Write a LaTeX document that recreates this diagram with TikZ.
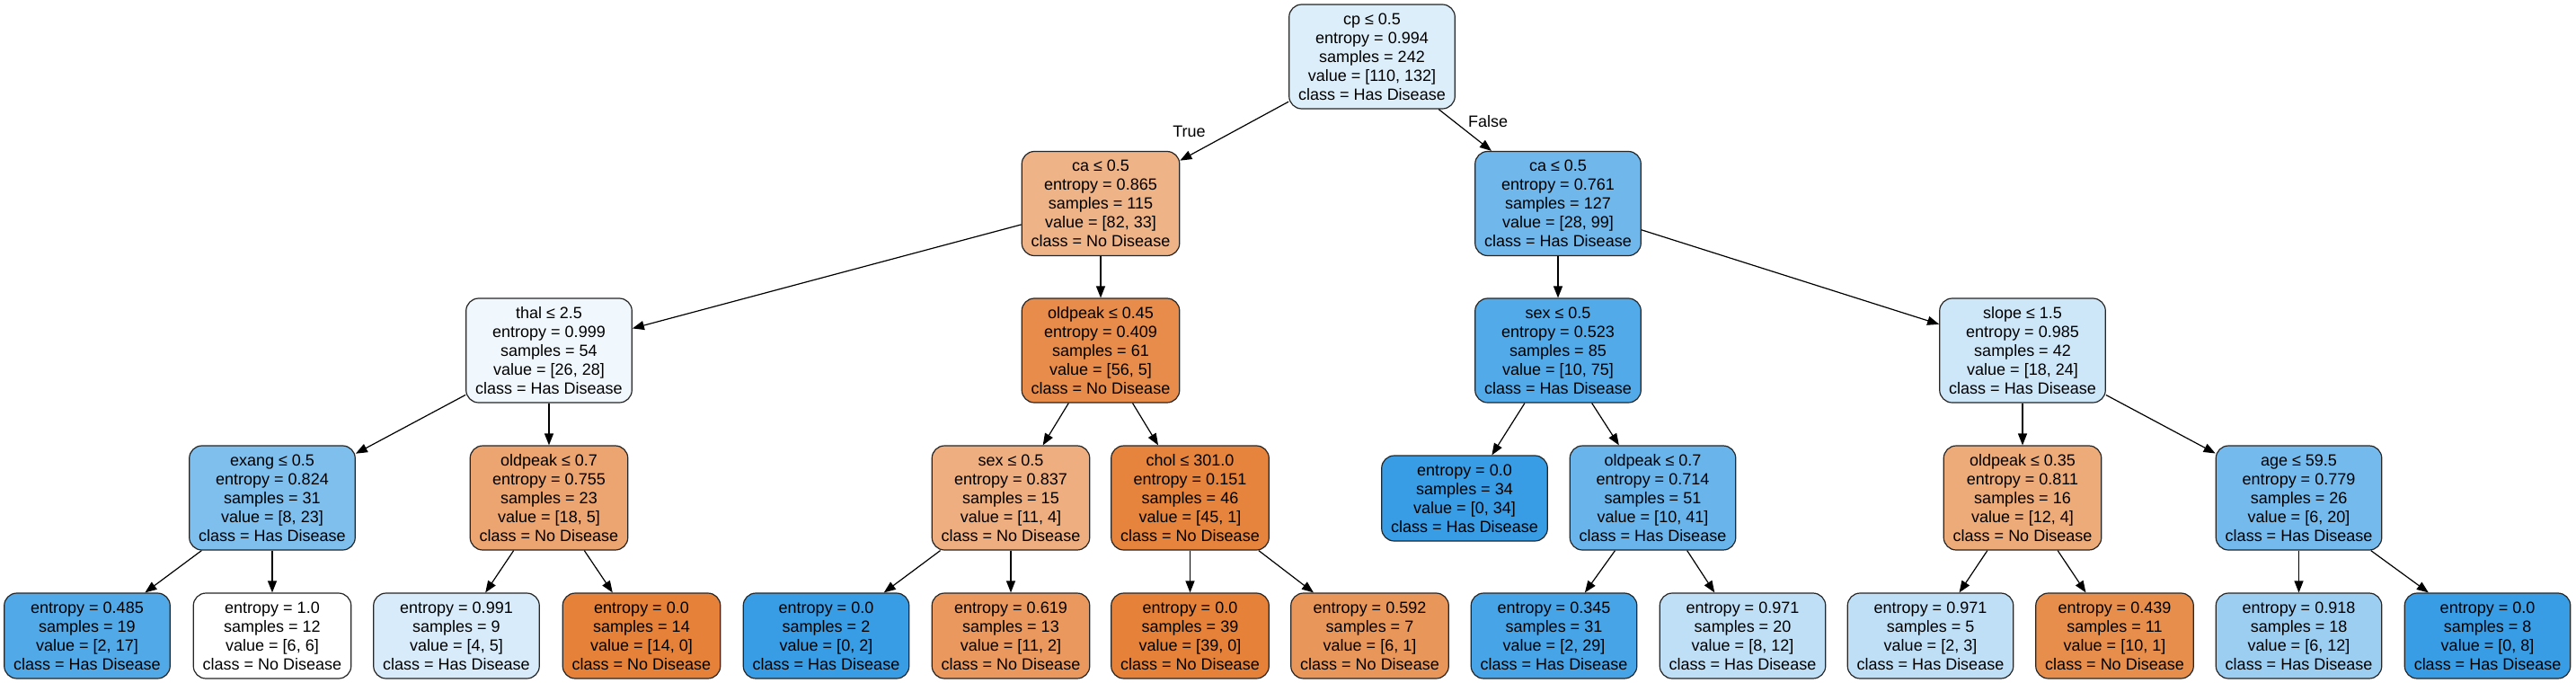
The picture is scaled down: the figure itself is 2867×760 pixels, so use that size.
\documentclass[tikz,border=0pt]{standalone}
\usepackage{fontspec}
\setmainfont{Liberation Sans}
\usetikzlibrary{arrows.meta}
\definecolor{nodis}{HTML}{E58139}
\definecolor{hasdis}{HTML}{399DE5}
\begin{document}
\begin{tikzpicture}[x=1pt,y=-1pt,font=\fontsize{18pt}{21pt}\selectfont]
\tikzstyle{box}=[draw=black!85,line width=1.2pt,rounded corners=14pt,align=center,inner xsep=10.5pt,inner ysep=0pt]
\tikzstyle{split}=[box,minimum height=116pt]
\tikzstyle{leaf}=[box,minimum height=95pt]
\tikzstyle{edge}=[line width=1.2pt,-{Triangle[length=13pt,width=10pt]}]
\useasboundingbox (0,0) rectangle (2867,760);
% root and first split
\node[split,fill=hasdis!17] (n0) at (1527,63) {cp ≤ 0.5\\entropy = 0.994\\samples = 242\\value = [110, 132]\\class = Has Disease};
\node[split,fill=nodis!60] (n1) at (1225,226.5) {ca ≤ 0.5\\entropy = 0.865\\samples = 115\\value = [82, 33]\\class = No Disease};
\node[split,fill=hasdis!72] (n16) at (1734,226.5) {ca ≤ 0.5\\entropy = 0.761\\samples = 127\\value = [28, 99]\\class = Has Disease};
% second level
\node[split,fill=hasdis!7] (n2) at (611,390) {thal ≤ 2.5\\entropy = 0.999\\samples = 54\\value = [26, 28]\\class = Has Disease};
\node[split,fill=nodis!91] (n9) at (1225,390) {oldpeak ≤ 0.45\\entropy = 0.409\\samples = 61\\value = [56, 5]\\class = No Disease};
\node[split,fill=hasdis!87] (n17) at (1734,390) {sex ≤ 0.5\\entropy = 0.523\\samples = 85\\value = [10, 75]\\class = Has Disease};
\node[split,fill=hasdis!25] (n22) at (2251,390) {slope ≤ 1.5\\entropy = 0.985\\samples = 42\\value = [18, 24]\\class = Has Disease};
% third level
\node[split,fill=hasdis!65] (n3) at (303,554) {exang ≤ 0.5\\entropy = 0.824\\samples = 31\\value = [8, 23]\\class = Has Disease};
\node[split,fill=nodis!72] (n6) at (611,554) {oldpeak ≤ 0.7\\entropy = 0.755\\samples = 23\\value = [18, 5]\\class = No Disease};
\node[split,fill=nodis!64] (n10) at (1125,554) {sex ≤ 0.5\\entropy = 0.837\\samples = 15\\value = [11, 4]\\class = No Disease};
\node[split,fill=nodis!98] (n13) at (1324.5,554) {chol ≤ 301.0\\entropy = 0.151\\samples = 46\\value = [45, 1]\\class = No Disease};
\node[leaf,fill=hasdis] (n18) at (1630,554.5) {entropy = 0.0\\samples = 34\\value = [0, 34]\\class = Has Disease};
\node[split,fill=hasdis!76] (n19) at (1839.5,554) {oldpeak ≤ 0.7\\entropy = 0.714\\samples = 51\\value = [10, 41]\\class = Has Disease};
\node[split,fill=nodis!67] (n23) at (2251,554) {oldpeak ≤ 0.35\\entropy = 0.811\\samples = 16\\value = [12, 4]\\class = No Disease};
\node[split,fill=hasdis!70] (n26) at (2558.5,554) {age ≤ 59.5\\entropy = 0.779\\samples = 26\\value = [6, 20]\\class = Has Disease};
% leaves
\node[leaf,fill=hasdis!88] (n4) at (97,707.5) {entropy = 0.485\\samples = 19\\value = [2, 17]\\class = Has Disease};
\node[leaf,fill=white] (n5) at (303,707.5) {entropy = 1.0\\samples = 12\\value = [6, 6]\\class = No Disease};
\node[leaf,fill=hasdis!20] (n7) at (508,707.5) {entropy = 0.991\\samples = 9\\value = [4, 5]\\class = Has Disease};
\node[leaf,fill=nodis] (n8) at (714,707.5) {entropy = 0.0\\samples = 14\\value = [14, 0]\\class = No Disease};
\node[leaf,fill=hasdis] (n11) at (919.5,707.5) {entropy = 0.0\\samples = 2\\value = [0, 2]\\class = Has Disease};
\node[leaf,fill=nodis!82] (n12) at (1125,707.5) {entropy = 0.619\\samples = 13\\value = [11, 2]\\class = No Disease};
\node[leaf,fill=nodis] (n14) at (1324.5,707.5) {entropy = 0.0\\samples = 39\\value = [39, 0]\\class = No Disease};
\node[leaf,fill=nodis!83] (n15) at (1524.5,707.5) {entropy = 0.592\\samples = 7\\value = [6, 1]\\class = No Disease};
\node[leaf,fill=hasdis!93] (n20) at (1729.5,707.5) {entropy = 0.345\\samples = 31\\value = [2, 29]\\class = Has Disease};
\node[leaf,fill=hasdis!33] (n21) at (1939.5,707.5) {entropy = 0.971\\samples = 20\\value = [8, 12]\\class = Has Disease};
\node[leaf,fill=hasdis!33] (n24) at (2148.5,707.5) {entropy = 0.971\\samples = 5\\value = [2, 3]\\class = Has Disease};
\node[leaf,fill=nodis!90] (n25) at (2353.5,707.5) {entropy = 0.439\\samples = 11\\value = [10, 1]\\class = No Disease};
\node[leaf,fill=hasdis!50] (n27) at (2558.5,707.5) {entropy = 0.918\\samples = 18\\value = [6, 12]\\class = Has Disease};
\node[leaf,fill=hasdis] (n28) at (2768.5,707.5) {entropy = 0.0\\samples = 8\\value = [0, 8]\\class = Has Disease};
% edges
\draw[edge] (n0) -- (n1);
\draw[edge] (n0) -- (n16);
\draw[edge] (n1) -- (n2);
\draw[edge] (n1) -- (n9);
\draw[edge] (n2) -- (n3);
\draw[edge] (n2) -- (n6);
\draw[edge] (n3) -- (n4);
\draw[edge] (n3) -- (n5);
\draw[edge] (n6) -- (n7);
\draw[edge] (n6) -- (n8);
\draw[edge] (n9) -- (n10);
\draw[edge] (n9) -- (n13);
\draw[edge] (n10) -- (n11);
\draw[edge] (n10) -- (n12);
\draw[edge] (n13) -- (n14);
\draw[edge] (n13) -- (n15);
\draw[edge] (n16) -- (n17);
\draw[edge] (n16) -- (n22);
\draw[edge] (n17) -- (n18);
\draw[edge] (n17) -- (n19);
\draw[edge] (n19) -- (n20);
\draw[edge] (n19) -- (n21);
\draw[edge] (n22) -- (n23);
\draw[edge] (n22) -- (n26);
\draw[edge] (n23) -- (n24);
\draw[edge] (n23) -- (n25);
\draw[edge] (n26) -- (n27);
\draw[edge] (n26) -- (n28);
\node (t) at (1323.5,146.5) {True};
\node (f) at (1656,135) {False};
\end{tikzpicture}
\end{document}
